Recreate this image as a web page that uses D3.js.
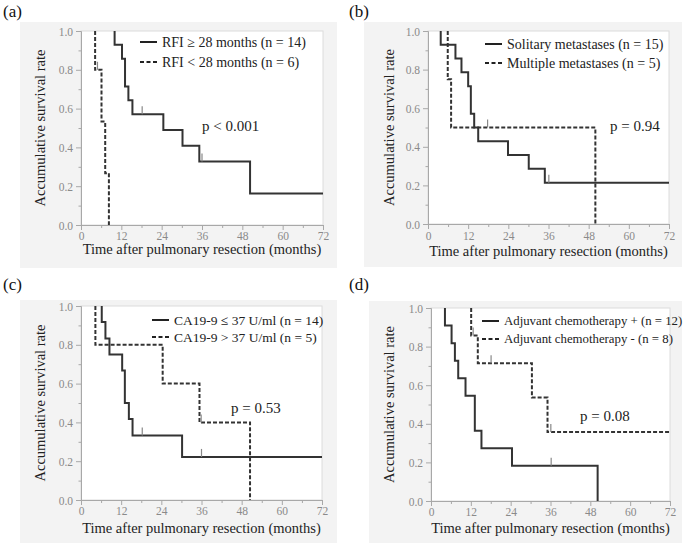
<!DOCTYPE html>
<html><head><meta charset="utf-8">
<script src="https://cdn.jsdelivr.net/npm/d3@7"></script>
<style>body{margin:0;background:#fff}svg{display:block}text{font-family:"Liberation Serif","DejaVu Serif",serif}</style>
</head><body><svg id="c" width="685" height="546"></svg>
<script>
// ---------- data ----------
const xTicks = [0, 12, 24, 36, 48, 60, 72];
const yTicks = [0, 0.2, 0.4, 0.6, 0.8, 1.0];
const panelLabels = ["(a)", "(b)", "(c)", "(d)"];
const pTexts = ["p < 0.001", "p = 0.94", "p = 0.53", "p = 0.08"];
const legendSolid = ["RFI \u2265 28 months (n = 14)", "Solitary metastases (n = 15)", "CA19-9 \u2264 37 U/ml (n = 14)", "Adjuvant chemotherapy + (n = 12)"];
const legendDash = ["RFI < 28 months (n = 6)", "Multiple metastases (n = 5)", "CA19-9 > 37 U/ml (n = 5)", "Adjuvant chemotherapy - (n = 8)"];

// (a)
const aSolidT = [10, 12.2, 13.1, 14.1, 15.3, 24.5, 30.2, 35.2, 50.3];
const aSolidS = [0.929, 0.857, 0.714, 0.643, 0.571, 0.49, 0.408, 0.327, 0.163];
const aSolidCens = [18.2, 36];
const aSolidEnd = 72;
const aDashT = [4.2, 6.1, 7.2, 8.3];
const aDashS = [0.8, 0.533, 0.267, 0];
const aDashCens = [4.9];
const aDashEnd = 8.3;
// (b)
const bSolidT = [3.8, 8.2, 10, 12, 12.8, 13.8, 15, 23.9, 30.1, 34.9];
const bSolidS = [0.929, 0.857, 0.786, 0.714, 0.571, 0.5, 0.429, 0.357, 0.286, 0.214];
const bSolidCens = [36.1];
const bSolidEnd = 72;
const bDashT = [5.9, 6.9, 50];
const bDashS = [0.75, 0.5, 0];
const bDashCens = [17.8];
const bDashEnd = 50;
// (c)
const cSolidT = [6.2, 7.3, 8.5, 12.3, 13.1, 14.3, 15.4, 30.2];
const cSolidS = [0.917, 0.833, 0.75, 0.667, 0.5, 0.417, 0.333, 0.222];
const cSolidCens = [18.3, 36];
const cSolidEnd = 72;
const cDashT = [4.3, 24.4, 35.4, 50.5];
const cDashS = [0.8, 0.6, 0.4, 0];
const cDashCens = [35.9];
const cDashEnd = 50.5;
// (d)
const dSolidT = [4.2, 6.2, 7.2, 8.2, 10.4, 13.2, 15.2, 24.4, 50.2];
const dSolidS = [0.909, 0.818, 0.727, 0.636, 0.545, 0.364, 0.273, 0.182, 0];
const dSolidCens = [36.2];
const dSolidEnd = 50.2;
const dDashT = [12.1, 14.1, 30.4, 35.1];
const dDashS = [0.857, 0.714, 0.536, 0.357];
const dDashCens = [12.7, 18.1, 36.1];
const dDashEnd = 72;

// ---------- layout ----------
const panels = [
  {bg:[20,22,337,268], x0:81, x1:323, yT:31, yB:225, lab:[3,17], yl:40, xlB:254, tkB:240, leg:[140,42,20], legFs:14, p:[202,131],
   solid:{t:aSolidT,s:aSolidS,c:aSolidCens,e:aSolidEnd}, dash:{t:aDashT,s:aDashS,c:aDashCens,e:aDashEnd}},
  {bg:[364,22,682,267], x0:428, x1:669, yT:31, yB:224, lab:[349,17], yl:389, xlB:256, tkB:240, leg:[485,44,19], legFs:14, p:[610,131],
   solid:{t:bSolidT,s:bSolidS,c:bSolidCens,e:bSolidEnd}, dash:{t:bDashT,s:bDashS,c:bDashCens,e:bDashEnd}},
  {bg:[20,300,337,543], x0:81, x1:322, yT:306, yB:500, lab:[3,290], yl:40, xlB:533, tkB:515, leg:[152,320,17], legFs:13.5, p:[231,413],
   solid:{t:cSolidT,s:cSolidS,c:cSolidCens,e:cSolidEnd}, dash:{t:cDashT,s:cDashS,c:cDashCens,e:cDashEnd}},
  {bg:[369,301,682,543], x0:431, x1:670, yT:308, yB:501, lab:[349,290], yl:389, xlB:533, tkB:516, leg:[482,321,18], legFs:12.8, p:[580,421],
   solid:{t:dSolidT,s:dSolidS,c:dSolidCens,e:dSolidEnd}, dash:{t:dDashT,s:dDashS,c:dDashCens,e:dDashEnd}}
];

const svg = d3.select("#c");
const curveCol = "#333", axisCol = "#a8a8a8", tickTxt = "#8a8a8a";

function stepPoints(t, s, end) {
  const pts = [[t[0], 1]];
  let cur = 1;
  t.forEach((ti, i) => { pts.push([ti, cur]); cur = s[i]; pts.push([ti, cur]); });
  const last = t[t.length - 1];
  if (end > last) pts.push([end, cur]);
  return pts;
}
function survAt(t, s, x) {
  let v = 1;
  t.forEach((ti, i) => { if (ti <= x) v = s[i]; });
  return v;
}

panels.forEach((P, i) => {
  const g = svg.append("g");
  g.append("rect").attr("x", P.bg[0]).attr("y", P.bg[1]).attr("width", P.bg[2]-P.bg[0]).attr("height", P.bg[3]-P.bg[1]).attr("fill", "#f3f3f3");
  const x = d3.scaleLinear().domain([0, 72]).range([P.x0, P.x1]);
  const y = d3.scaleLinear().domain([0, 1]).range([P.yB, P.yT]);
  g.append("rect").attr("x", P.x0).attr("y", P.yT).attr("width", P.x1-P.x0).attr("height", P.yB-P.yT)
    .attr("fill", "#fff").attr("stroke", "#dcdcdc").attr("stroke-width", 1);

  const yMinor = d3.range(0.1, 1.0, 0.2);
  const xMinor = d3.range(6, 72, 12);
  const yAxis = d3.axisLeft(y).tickValues(yTicks).tickFormat(d3.format(".1f")).tickSize(5).tickPadding(3);
  const xAxis = d3.axisBottom(x).tickValues(xTicks).tickFormat(d3.format("d")).tickSize(5).tickPadding(4);
  const ya = g.append("g").attr("transform", `translate(${P.x0},0)`).call(yAxis);
  const xa = g.append("g").attr("transform", `translate(0,${P.yB})`).call(xAxis);
  [ya, xa].forEach(a => {
    a.select(".domain").attr("stroke", axisCol);
    a.selectAll(".tick line").attr("stroke", axisCol);
    a.selectAll("text").attr("fill", tickTxt).attr("font-family", null).attr("font-size", 11.5);
  });
  xa.selectAll("text").attr("dy", null).attr("y", P.tkB - P.yB);
  ya.selectAll("text").attr("dy", "0.35em");
  g.append("g").attr("transform", `translate(${P.x0},0)`).call(d3.axisLeft(y).tickValues(yMinor).tickFormat("").tickSize(2.5))
    .call(a => { a.select(".domain").remove(); a.selectAll("line").attr("stroke", axisCol); });
  g.append("g").attr("transform", `translate(0,${P.yB})`).call(d3.axisBottom(x).tickValues(xMinor).tickFormat("").tickSize(3))
    .call(a => { a.select(".domain").remove(); a.selectAll("line").attr("stroke", axisCol); });

  const line = d3.line().x(d => x(d[0])).y(d => y(d[1]));
  [["dash", "4,2"], ["solid", null]].forEach(([k, da]) => {
    const c = P[k];
    g.append("path").attr("d", line(stepPoints(c.t, c.s, c.e))).attr("fill", "none")
      .attr("stroke", curveCol).attr("stroke-width", 2).attr("stroke-dasharray", da);
    c.c.forEach(ct => {
      const v = survAt(c.t, c.s, ct);
      g.append("line").attr("x1", x(ct)).attr("x2", x(ct)).attr("y1", y(v)).attr("y2", y(v) - 8)
        .attr("stroke", "#888").attr("stroke-width", 1.2);
    });
  });

  const [lx, ly, gap] = P.leg;
  g.append("line").attr("x1", lx).attr("x2", lx + 17).attr("y1", ly).attr("y2", ly).attr("stroke", "#222").attr("stroke-width", 2);
  g.append("line").attr("x1", lx).attr("x2", lx + 17).attr("y1", ly + gap).attr("y2", ly + gap).attr("stroke", "#222").attr("stroke-width", 2).attr("stroke-dasharray", "4,2.5");
  g.append("text").attr("x", lx + 22).attr("y", ly).attr("dy", "0.35em").attr("font-size", P.legFs).attr("fill", "#222").text(legendSolid[i]);
  g.append("text").attr("x", lx + 22).attr("y", ly + gap).attr("dy", "0.35em").attr("font-size", P.legFs).attr("fill", "#222").text(legendDash[i]);

  g.append("text").attr("x", P.p[0]).attr("y", P.p[1]).attr("font-size", 15).attr("fill", "#222").text(pTexts[i]);

  g.append("text").attr("transform", `translate(${P.yl},${(P.yT + P.yB) / 2}) rotate(-90)`).attr("text-anchor", "middle").attr("dy", "0.35em")
    .attr("font-size", 14.5).attr("fill", "#222").text("Accumulative survival rate");
  g.append("text").attr("x", (P.x0 + P.x1) / 2).attr("y", P.xlB).attr("text-anchor", "middle")
    .attr("font-size", 14.5).attr("fill", "#222").text("Time after pulmonary resection (months)");

  svg.append("text").attr("x", P.lab[0]).attr("y", P.lab[1]).attr("font-size", 17).attr("fill", "#111").text(panelLabels[i]);
});
</script></body></html>
